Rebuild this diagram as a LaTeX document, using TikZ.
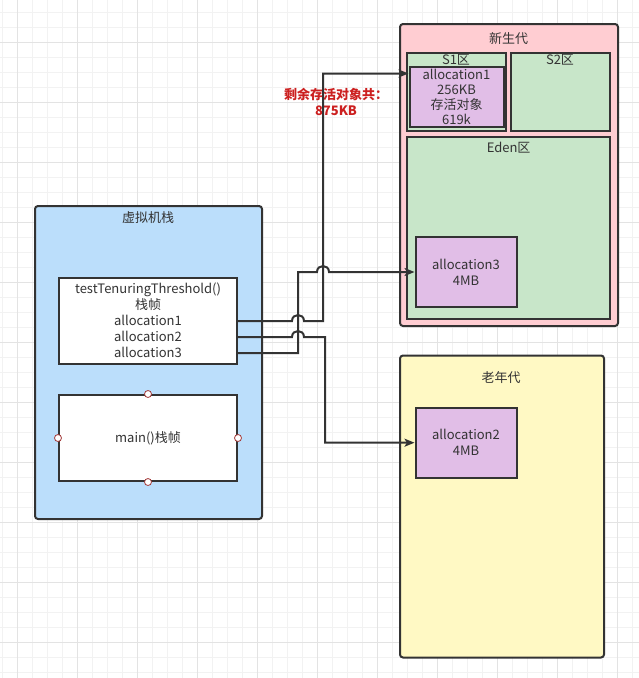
\documentclass[tikz,border=0pt]{standalone}
\usepackage{fontspec}
\setmainfont{Noto Sans CJK SC}
\usetikzlibrary{arrows.meta}
\definecolor{edge}{HTML}{333333}
\definecolor{gridminor}{HTML}{F2F2F2}
\definecolor{gridmajor}{HTML}{E3E3E3}
\definecolor{stackblue}{HTML}{BBDEFB}
\definecolor{youngpink}{HTML}{FFCDD2}
\definecolor{zonegreen}{HTML}{C8E6C9}
\definecolor{objpurple}{HTML}{E1BEE7}
\definecolor{oldyellow}{HTML}{FFF9C4}
\definecolor{notered}{HTML}{CC2020}
\definecolor{handlered}{HTML}{A33A3A}
\tikzset{
  box/.style={draw=edge, line width=2pt, inner sep=0pt, align=center, text=edge},
  title/.style={text=edge, inner sep=0pt},
  wire/.style={draw=edge, line width=2pt, -{Stealth[length=10pt,width=8pt,inset=2.5pt]}},
  handle/.style={circle, draw=handlered, fill=white, line width=0.8pt, minimum size=7pt, inner sep=0pt},
}
\begin{document}
\begin{tikzpicture}[x=1pt, y=-1pt, font=\fontsize{13}{16}\selectfont]
  \useasboundingbox (0,0) rectangle (639,678);
  \fill[white] (0,0) rectangle (639,678);
  % grid
  \foreach \gx in {2.7,17.7,...,633} \draw[gridminor, line width=1pt] (\gx,0) -- (\gx,678);
  \foreach \gy in {12.3,27.3,...,673} \draw[gridminor, line width=1pt] (0,\gy) -- (639,\gy);
  \foreach \gx in {17.7,77.7,...,618} \draw[gridmajor, line width=1pt] (\gx,0) -- (\gx,678);
  \foreach \gy in {42.3,102.3,...,643} \draw[gridmajor, line width=1pt] (0,\gy) -- (639,\gy);

  % virtual machine stack
  \node[box, fill=stackblue, rounded corners=3pt, minimum width=227pt, minimum height=313pt] (stack) at (148.5,362.5) {};
  \node[title] (stackT) at (148,218) {虚拟机栈};
  \node[box, fill=white, minimum width=178pt, minimum height=86pt] (tt) at (148,320.5)
    {testTenuringThreshold()\\栈帧\\allocation1\\allocation2\\allocation3};
  \node[box, fill=white, minimum width=178pt, minimum height=86pt] (main) at (148,438) {main()栈帧};
  \foreach \side in {north,south,east,west} \node[handle] (h\side) at (main.\side) {};
  \coordinate (p1) at (237,321);
  \coordinate (p2) at (237,337);
  \coordinate (p3) at (237,353);

  % young generation
  \node[box, fill=youngpink, rounded corners=3pt, minimum width=218pt, minimum height=302pt] (young) at (509,175) {};
  \node[title] (youngT) at (508.6,39) {新生代};
  \node[box, fill=zonegreen, minimum width=99pt, minimum height=78pt] (s1) at (456.5,91.5) {};
  \node[box, fill=zonegreen, minimum width=99pt, minimum height=78pt] (s2) at (560.5,91.5) {};
  \node[title] (s1T) at (456,60) {S1区};
  \node[title] (s2T) at (560,60) {S2区};
  \node[box, fill=objpurple, minimum width=94pt, minimum height=60pt, font=\fontsize{13}{15}\selectfont] (a1) at (456.5,97)
    {allocation1\\256KB\\存活对象\\619k};
  \node[box, fill=zonegreen, minimum width=203pt, minimum height=182pt] (eden) at (508.5,228) {};
  \node[title] (edenT) at (508.6,148) {Eden区};
  \node[box, fill=objpurple, minimum width=101pt, minimum height=70pt] (a3) at (466,272) {allocation3\\4MB};

  % old generation
  \node[box, fill=oldyellow, rounded corners=3pt, minimum width=204pt, minimum height=302pt] (old) at (502,506.5) {};
  \node[title] (oldT) at (501,378) {老年代};
  \node[box, fill=objpurple, minimum width=101pt, minimum height=70pt] (a2) at (466,442.7) {allocation2\\4MB};

  \node[text=notered, font=\fontsize{13}{16}\selectfont\bfseries, align=center, inner sep=0pt] (note) at (336,102)
    {剩余存活对象共：\\875KB};

  % references
  \coordinate (j1) at (323,73.5);
  \draw[wire] (p1) -- (292,321) .. controls (292,313) and (304,313) .. (304,321) -- (323,321) -- (j1) -- (j1 -| a1.west);
  \draw[wire] (p3) -- (298,353) -- (298,272) -- (317,272) .. controls (317,264) and (329,264) .. (329,272) -- (a3.west);
  \draw[wire] (p2) -- (292,337) .. controls (292,329) and (304,329) .. (304,337) -- (325,337) |- (a2.west);
\end{tikzpicture}
\end{document}
